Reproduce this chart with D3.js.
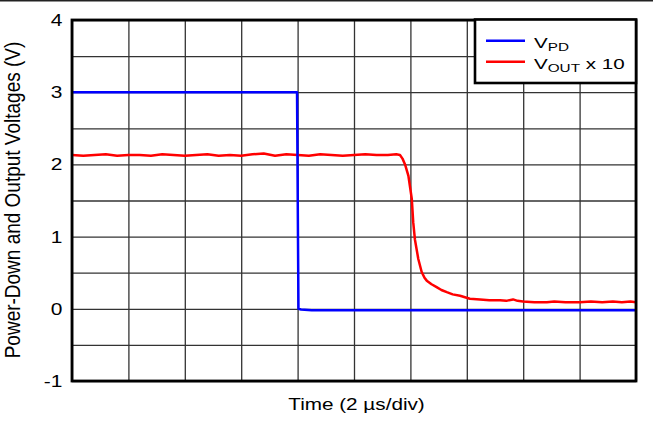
<!DOCTYPE html>
<html>
<head>
<meta charset="utf-8">
<script src="https://cdn.jsdelivr.net/npm/d3@7"></script>
<style>
  html, body { margin: 0; padding: 0; background: #fff; }
  svg { display: block; }
  text { font-family: "Liberation Sans", Arial, sans-serif; fill: #000; }
</style>
</head>
<body>
<svg id="chart" width="653" height="424"></svg>
<script>
// Time axis: 10 divisions of 2 µs
const timeTicks = [0, 2, 4, 6, 8, 10, 12, 14, 16, 18, 20];
const voltGrid = [-1, -0.5, 0, 0.5, 1, 1.5, 2, 2.5, 3, 3.5, 4];
const voltLabels = [-1, 0, 1, 2, 3, 4];

// Power-down pin voltage (V) vs time (µs)
const pdTime = [0, 4, 7.98, 8.03, 8.12, 8.5, 9, 12, 16, 20];
const pdVolts = [3.0, 3.0, 3.0, 0.0, -0.01, -0.02, -0.02, -0.02, -0.02, -0.02];

// Output voltage x 10 (V) vs time (µs)
const outTime = [
  0, 0.4, 0.8, 1.2, 1.6, 2.0, 2.4, 2.8, 3.2, 3.6, 4.0, 4.4, 4.8, 5.2, 5.6,
  6.0, 6.4, 6.8, 7.2, 7.6, 8.0, 8.4, 8.8, 9.2, 9.6, 10.0, 10.4, 10.8, 11.2,
  11.5, 11.63, 11.72, 11.81, 11.93, 12.05, 12.10, 12.16, 12.28, 12.40, 12.50,
  12.58, 12.75, 12.93, 13.1, 13.29, 13.5, 13.76, 14.11, 14.47, 14.8, 15.18,
  15.4, 15.64, 15.8, 15.99, 16.4, 16.84, 17.1, 17.5, 18.01, 18.4, 18.8,
  19.18, 19.5, 19.8, 20.0
];
const outVolts = [
  2.13, 2.12, 2.13, 2.14, 2.12, 2.13, 2.13, 2.12, 2.14, 2.13, 2.12, 2.13, 2.14, 2.12, 2.13,
  2.12, 2.14, 2.15, 2.12, 2.14, 2.13, 2.12, 2.14, 2.13, 2.12, 2.13, 2.14, 2.13, 2.13,
  2.14, 2.13, 2.08, 2.00, 1.84, 1.52, 1.20, 0.96, 0.69, 0.51, 0.43,
  0.39, 0.34, 0.30, 0.26, 0.23, 0.20, 0.18, 0.14, 0.13, 0.12, 0.12,
  0.11, 0.13, 0.11, 0.10, 0.09, 0.09, 0.10, 0.09, 0.09, 0.10, 0.09,
  0.10, 0.09, 0.10, 0.09
];

const svg = d3.select("#chart");
const plotL = 72, plotR = 636, plotT = 20, plotB = 381;
const stretch = 1.27; // wide lettering

const x = d3.scaleLinear().domain([0, 20]).range([plotL, plotR]);
const y = d3.scaleLinear().domain([-1, 4]).range([plotB, plotT]);

// thin rule across the top of the page
svg.append("line").attr("x1", 0).attr("x2", 653).attr("y1", 0.75).attr("y2", 0.75)
  .attr("stroke", "#222").attr("stroke-width", 1.5);

// grid
const grid = svg.append("g");
grid.append("g")
  .attr("transform", `translate(0,${plotB})`)
  .call(d3.axisBottom(x).tickValues(timeTicks).tickSize(-(plotB - plotT)).tickFormat(""))
  .call(g => g.select(".domain").remove())
  .selectAll("line").attr("stroke", "#333").attr("stroke-width", 1.3);
grid.append("g")
  .attr("transform", `translate(${plotL},0)`)
  .call(d3.axisLeft(y).tickValues(voltGrid).tickSize(-(plotR - plotL)).tickFormat(""))
  .call(g => g.select(".domain").remove())
  .selectAll("line").attr("stroke", "#333").attr("stroke-width", 1.3);

// traces
const line = d3.line().x(d => x(d[0])).y(d => y(d[1]));
const outData = outTime.map((t, i) => [t, outVolts[i]]);
const pdData = pdTime.map((t, i) => [t, pdVolts[i]]);

svg.append("path").datum(outData).attr("d", line)
  .attr("fill", "none").attr("stroke", "#ff0000").attr("stroke-width", 2.5)
  .attr("stroke-linejoin", "round");
svg.append("path").datum(pdData).attr("d", line)
  .attr("fill", "none").attr("stroke", "#0000ff").attr("stroke-width", 2.5)
  .attr("stroke-linejoin", "round");

// frame
svg.append("rect").attr("x", plotL).attr("y", plotT)
  .attr("width", plotR - plotL).attr("height", plotB - plotT)
  .attr("fill", "none").attr("stroke", "#000").attr("stroke-width", 2.8);

// y tick labels
svg.append("g").selectAll("text").data(voltLabels).join("text")
  .attr("transform", d => `translate(62.5,${y(d)}) scale(${stretch},1)`)
  .attr("text-anchor", "end").attr("dy", "0.36em")
  .style("font-size", "16.5px")
  .text(d => d);

// axis titles
svg.append("text")
  .attr("transform", `translate(356.5,410) scale(${stretch},1)`)
  .attr("text-anchor", "middle").style("font-size", "16.3px")
  .text("Time (2 \u00b5s/div)");
svg.append("text")
  .attr("transform", `translate(20,200) scale(1.12,1) rotate(-90)`)
  .attr("text-anchor", "middle").style("font-size", "19px")
  .text("Power-Down and Output Voltages (V)");

// legend
const lg = svg.append("g");
lg.append("rect").attr("x", 475).attr("y", 19.5).attr("width", 161).attr("height", 63.5)
  .attr("fill", "#fff").attr("stroke", "#000").attr("stroke-width", 2.6);
const legendItems = [
  { main: "V", sub: "PD", rest: "", color: "#0000ff", y: 40.7 },
  { main: "V", sub: "OUT", rest: " x 10", color: "#ff0000", y: 61.7 }
];
legendItems.forEach(it => {
  lg.append("line").attr("x1", 486).attr("x2", 525).attr("y1", it.y).attr("y2", it.y)
    .attr("stroke", it.color).attr("stroke-width", 2.5);
  const t = lg.append("text")
    .attr("transform", `translate(534,${it.y + 6.8}) scale(1.33,1)`)
    .style("font-size", "15.5px");
  t.append("tspan").text(it.main);
  t.append("tspan").attr("dy", 3).style("font-size", "11.5px").text(it.sub);
  if (it.rest) t.append("tspan").attr("dy", -3).text(it.rest);
});
</script>
</body>
</html>
